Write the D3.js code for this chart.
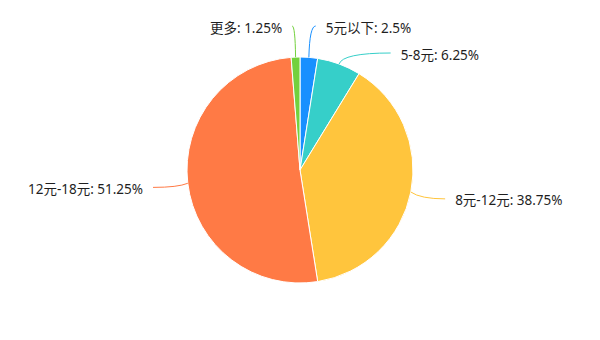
<!DOCTYPE html>
<html>
<head>
<meta charset="utf-8">
<script src="https://cdn.jsdelivr.net/npm/d3@7"></script>
<style>
  body { margin: 0; background: #fff; }
  text { font-family: "Noto Sans", "Noto Sans CJK SC", sans-serif; }
</style>
</head>
<body>
<div id="chart"></div>
<script>
// price bands and their share (%)
var categories = ["5元以下", "5-8元", "8元-12元", "12元-18元", "更多"];
var shares = [2.5, 6.25, 38.75, 51.25, 1.25];
var colors = ["#1890ff", "#36cfc9", "#ffc53d", "#ff7a45", "#73d13d"];

var width = 600, height = 340;
var cx = 300, cy = 170, radius = 113;
var labelR = 148;
var topLimit = -144;

var data = categories.map((c, i) => ({name: c, value: shares[i], color: colors[i]}));

var svg = d3.select("#chart").append("svg")
    .attr("width", width)
    .attr("height", height);

var g = svg.append("g").attr("transform", `translate(${cx},${cy})`);

var pie = d3.pie().sort(null).value(d => d.value);
var arcs = pie(data);
var arc = d3.arc().innerRadius(0).outerRadius(radius);

g.selectAll("path.slice")
    .data(arcs)
    .enter()
    .append("path")
    .attr("class", "slice")
    .attr("d", arc)
    .attr("fill", d => d.data.color)
    .attr("stroke", "#fff")
    .style("stroke-width", "1px");

// label anchors: mid angle on an outer circle, then push apart vertically
var labels = arcs.map(d => {
    var a = (d.startAngle + d.endAngle) / 2;
    var y = Math.max(topLimit, -Math.cos(a) * labelR);
    return {
        d: d,
        a: a,
        right: Math.sin(a) >= 0,
        y: y,
        x: Math.sin(a) * labelR * 1.35,
        moved: false
    };
});

[true, false].forEach(side => {
    var list = labels.filter(l => l.right === side).sort((p, q) => p.y - q.y);
    for (var i = 1; i < list.length; i++) {
        if (list[i].y - list[i - 1].y < 27) {
            list[i].y = list[i - 1].y + 27;
            list[i].moved = true;
        }
    }
});

labels.forEach(l => {
    if (l.moved || Math.abs(l.y) < 140) {
        var dx = Math.sqrt(labelR * labelR - l.y * l.y);
        l.x = l.right ? dx : -dx;
    }
    l.ex = Math.sin(l.a) * radius;
    l.ey = -Math.cos(l.a) * radius;
    l.qx = Math.sin(l.a) * (radius + 10);
});

g.selectAll("path.link")
    .data(labels)
    .enter()
    .append("path")
    .attr("class", "link")
    .attr("d", l => `M${l.ex},${l.ey}Q${l.qx},${l.y} ${l.x},${l.y}`)
    .attr("fill", "none")
    .attr("stroke", l => l.d.data.color)
    .style("stroke-width", "1px");

g.selectAll("text.label")
    .data(labels)
    .enter()
    .append("text")
    .attr("class", "label")
    .attr("x", l => l.right ? l.x + 10 : l.x - 10)
    .attr("y", l => l.y + 3)
    .attr("dominant-baseline", "middle")
    .attr("text-anchor", l => l.right ? "start" : "end")
    .style("font-size", "13.5px")
    .style("fill", "#1f1f1f")
    .text(l => l.d.data.name + ": " + l.d.data.value + "%");
</script>
</body>
</html>
